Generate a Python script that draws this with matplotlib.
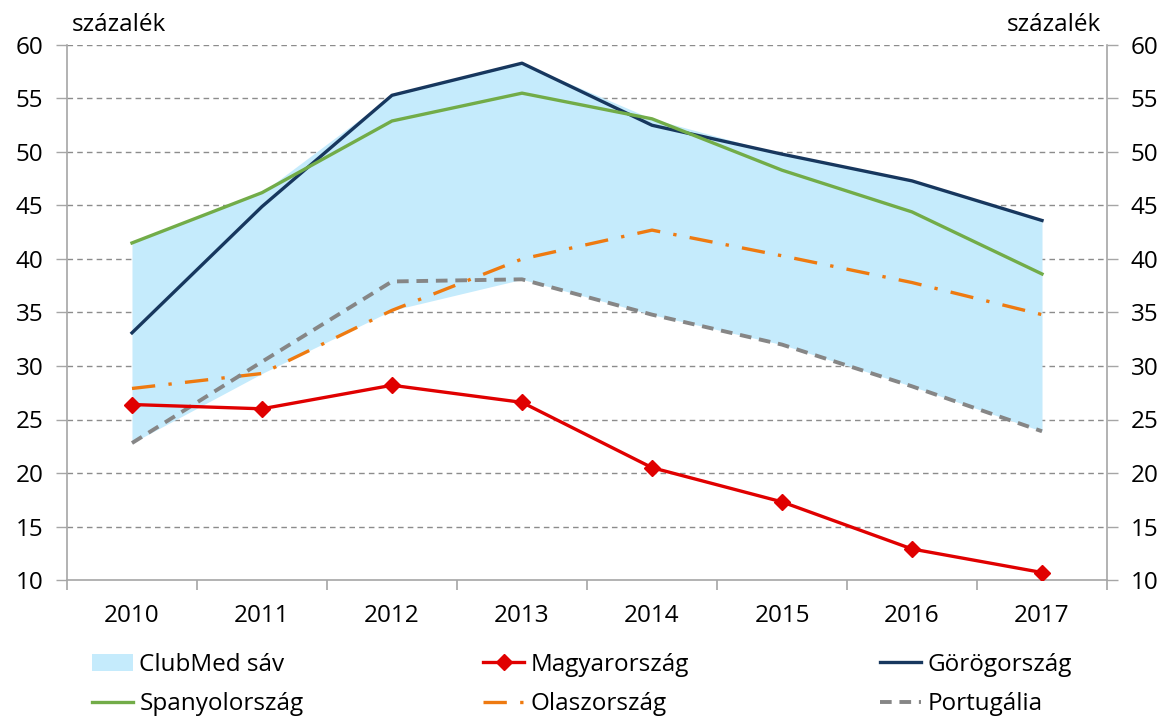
import numpy as np
import matplotlib
matplotlib.use('Agg')
from matplotlib import pyplot as plt
from matplotlib.patches import Patch
from matplotlib.lines import Line2D

plt.rcParams['font.family'] = ['Open Sans', 'DejaVu Sans']

# Data (percent)
years = ['2010', '2011', '2012', '2013', '2014', '2015', '2016', '2017']
hungary = [26.4, 26.0, 28.2, 26.6, 20.5, 17.3, 12.9, 10.7]
greece = [33.1, 44.9, 55.3, 58.3, 52.5, 49.8, 47.3, 43.6]
spain = [41.5, 46.2, 52.9, 55.5, 53.1, 48.3, 44.4, 38.6]
italy = [27.9, 29.3, 35.2, 40.0, 42.7, 40.3, 37.8, 34.8]
portugal = [22.8, 30.4, 37.9, 38.1, 34.8, 32.0, 28.1, 23.9]

C_BAND = '#c5ebfc'
C_HU = '#e00000'
C_GR = '#17375e'
C_ES = '#72ac48'
C_IT = '#ee7a10'
C_PT = '#868686'
C_AX = '#a6a6a6'

FS = 17.5

clubmed = np.array([greece, spain, italy, portugal])
band_lo = clubmed.min(axis=0)
band_hi = clubmed.max(axis=0)

x = np.arange(len(years))

fig = plt.figure(figsize=(11.65, 7.17), dpi=100)
ax = fig.add_axes([67 / 1165, 1 - 580 / 717, (1107 - 67) / 1165, (580 - 45) / 717])

ax.fill_between(x, band_lo, band_hi, color=C_BAND, lw=0, zorder=1)

ax.plot(x, greece, color=C_GR, lw=2.4, zorder=3)
ax.plot(x, spain, color=C_ES, lw=2.4, zorder=3)
ax.plot(x, italy, color=C_IT, lw=2.4, dashes=(7, 4, 1, 4), zorder=3)
ax.plot(x, portugal, color=C_PT, lw=2.8, dashes=(3, 2), zorder=3)
ax.plot(x, hungary, color=C_HU, lw=2.4, marker='D', ms=8.5, zorder=4)

ax.set_xlim(-0.5, len(years) - 0.5)
ax.set_ylim(10, 60)
ax.set_yticks(np.arange(10, 61, 5))
for v in np.arange(15, 61, 5):
    ax.axhline(v, color='#8c8c8c', lw=1.0, dashes=(4, 3), zorder=0)

ax.set_xticks(x)
ax.set_xticklabels(years, fontsize=FS)
ax.set_xticks(np.arange(-0.5, len(years), 1), minor=True)
ax.tick_params(axis='x', which='major', length=0, pad=17)
ax.tick_params(axis='x', which='minor', length=7, color=C_AX, width=1.2, direction='out')
ax.tick_params(axis='y', length=8, color=C_AX, width=1.0, labelsize=FS, pad=9,
               left=True, right=True, labelleft=True, labelright=True)

for s in ['left', 'right', 'bottom']:
    ax.spines[s].set_color(C_AX)
    ax.spines[s].set_linewidth(1.2)
ax.spines['top'].set_visible(False)

fig.text(72 / 1165, 1 - 25 / 717, 'százalék', fontsize=FS, va='center', ha='left')
fig.text(1101 / 1165, 1 - 25 / 717, 'százalék', fontsize=FS, va='center', ha='right')

cols = [
    [(Patch(facecolor=C_BAND, edgecolor='none'), 'ClubMed sáv'),
     (Line2D([], [], color=C_ES, lw=2.4), 'Spanyolország')],
    [(Line2D([], [], color=C_HU, lw=2.4, marker='D', ms=8), 'Magyarország'),
     (Line2D([], [], color=C_IT, lw=2.4, dashes=(7, 4, 1, 4)), 'Olaszország')],
    [(Line2D([], [], color=C_GR, lw=2.4), 'Görögország'),
     (Line2D([], [], color=C_PT, lw=2.8, dashes=(3, 2)), 'Portugália')],
]
col_x = [92, 483, 880]
for cx, entries in zip(col_x, cols):
    h = [e[0] for e in entries]
    lab = [e[1] for e in entries]
    fig.legend(h, lab, loc='upper left', bbox_to_anchor=(cx / 1165, 1 - 653 / 717),
               frameon=False, fontsize=FS, handlelength=1.7, handletextpad=0.25,
               labelspacing=0.62, borderaxespad=0, borderpad=0)

fig.savefig('out.png', dpi=100)
